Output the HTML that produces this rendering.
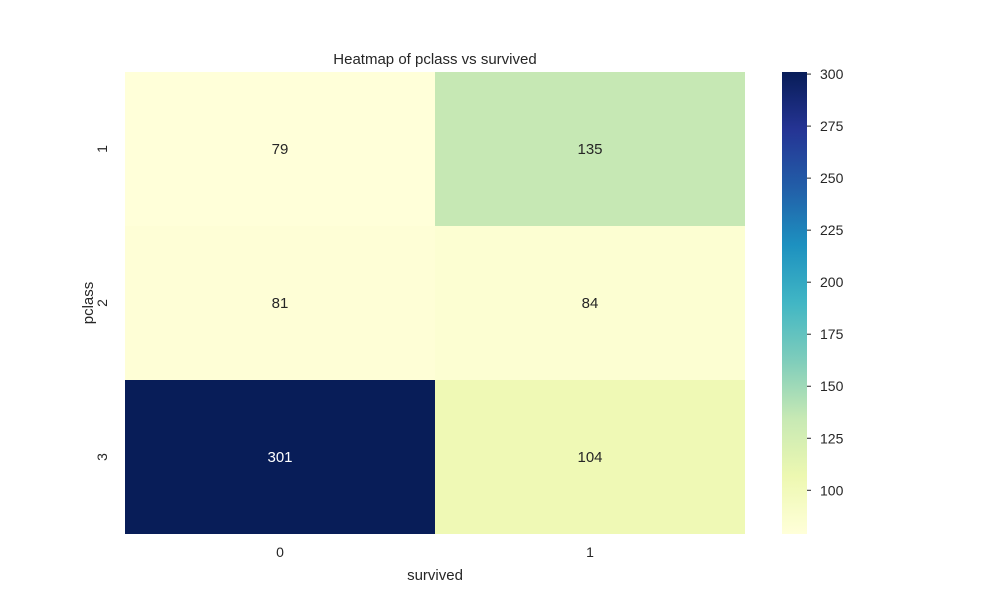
<!DOCTYPE html>
<html><head><meta charset="utf-8"><style>
body{margin:0;background:#fff;font-family:"Liberation Sans","DejaVu Sans",sans-serif;}
svg text{font-family:"Liberation Sans","DejaVu Sans",sans-serif;fill:#262626;}
</style></head><body>
<svg id="chart" width="1000" height="600" xmlns="http://www.w3.org/2000/svg">
<defs><linearGradient id="cbgrad" x1="0" y1="1" x2="0" y2="0">
<stop offset="0" stop-color="#ffffd9"/><stop offset="0.125" stop-color="#edf8b1"/><stop offset="0.25" stop-color="#c7e9b4"/><stop offset="0.375" stop-color="#7fcdbb"/><stop offset="0.5" stop-color="#41b6c4"/><stop offset="0.625" stop-color="#1d91c0"/><stop offset="0.75" stop-color="#225ea8"/><stop offset="0.875" stop-color="#253494"/><stop offset="1" stop-color="#081d58"/>
</linearGradient></defs>
<text x="435" y="64" text-anchor="middle" font-size="15">Heatmap of pclass vs survived</text>
<g id="cells"></g>
<rect x="782" y="72" width="25" height="462" fill="url(#cbgrad)"/>
<g id="cbticks"></g>
<g id="axes"></g>
<text x="435" y="580" text-anchor="middle" font-size="15">survived</text>
<text x="0" y="0" transform="translate(93,303) rotate(-90)" text-anchor="middle" font-size="15">pclass</text>
</svg>
<script>
const rowLabels=["1","2","3"];
const colLabels=["0","1"];
const values=[[79,135],[81,84],[301,104]];
const cbTicks=[100,125,150,175,200,225,250,275,300];
const NS="http://www.w3.org/2000/svg";
const stops=["#ffffd9","#edf8b1","#c7e9b4","#7fcdbb","#41b6c4","#1d91c0","#225ea8","#253494","#081d58"];
const flat=values.flat();const vmin=Math.min(...flat),vmax=Math.max(...flat);
const X0=125,X1=745,Y0=72,Y1=534;
const cw=(X1-X0)/colLabels.length,ch=(Y1-Y0)/rowLabels.length;
function hex(h){return [1,3,5].map(i=>parseInt(h.substr(i,2),16));}
function color(v){let t=(v-vmin)/(vmax-vmin)*(stops.length-1);let i=Math.min(Math.floor(t),stops.length-2);let f=t-i;let a=hex(stops[i]),b=hex(stops[i+1]);return "rgb("+a.map((c,k)=>Math.round(c+(b[k]-c)*f)).join(",")+")";}
function lum(v){let t=(v-vmin)/(vmax-vmin);return t>0.5;}
function cbY(v){return Y1-(v-vmin)/(vmax-vmin)*(Y1-Y0);}
const cells=document.getElementById("cells");
values.forEach((row,r)=>row.forEach((v,c)=>{
 const rect=document.createElementNS(NS,"rect");
 rect.setAttribute("x",X0+c*cw);rect.setAttribute("y",Y0+r*ch);rect.setAttribute("width",cw);rect.setAttribute("height",ch);rect.setAttribute("fill",color(v));
 
 
 cells.appendChild(rect);
 const t=document.createElementNS(NS,"text");
 t.setAttribute("x",X0+(c+0.5)*cw);t.setAttribute("y",Y0+(r+0.5)*ch+5);t.setAttribute("text-anchor","middle");t.setAttribute("font-size","15");
 t.style.fill=lum(v)?"#ffffff":"#262626";t.textContent=v;
 
 
 cells.appendChild(t);
}));
const axes=document.getElementById("axes");
colLabels.forEach((l,c)=>{
 const t=document.createElementNS(NS,"text");
 t.setAttribute("x",X0+(c+0.5)*cw);t.setAttribute("y",557);t.setAttribute("text-anchor","middle");t.setAttribute("font-size","14");t.textContent=l;
 
 
 axes.appendChild(t);
});
rowLabels.forEach((l,r)=>{
 const y=Y0+(r+0.5)*ch;
 const t=document.createElementNS(NS,"text");
 t.setAttribute("transform","translate(107,"+y+") rotate(-90)");t.setAttribute("text-anchor","middle");t.setAttribute("font-size","14");t.textContent=l;
 
 
 axes.appendChild(t);
});
const cbt=document.getElementById("cbticks");
cbTicks.forEach(v=>{
 const y=cbY(v);
 const ln=document.createElementNS(NS,"line");
 ln.setAttribute("x1",807);ln.setAttribute("x2",811);ln.setAttribute("y1",y);ln.setAttribute("y2",y);ln.setAttribute("stroke","#262626");
 
 
 cbt.appendChild(ln);
 const t=document.createElementNS(NS,"text");
 t.setAttribute("x",820);t.setAttribute("y",y+5);t.setAttribute("font-size","14");t.textContent=v;
 
 
 cbt.appendChild(t);
});
</script>
</body></html>
